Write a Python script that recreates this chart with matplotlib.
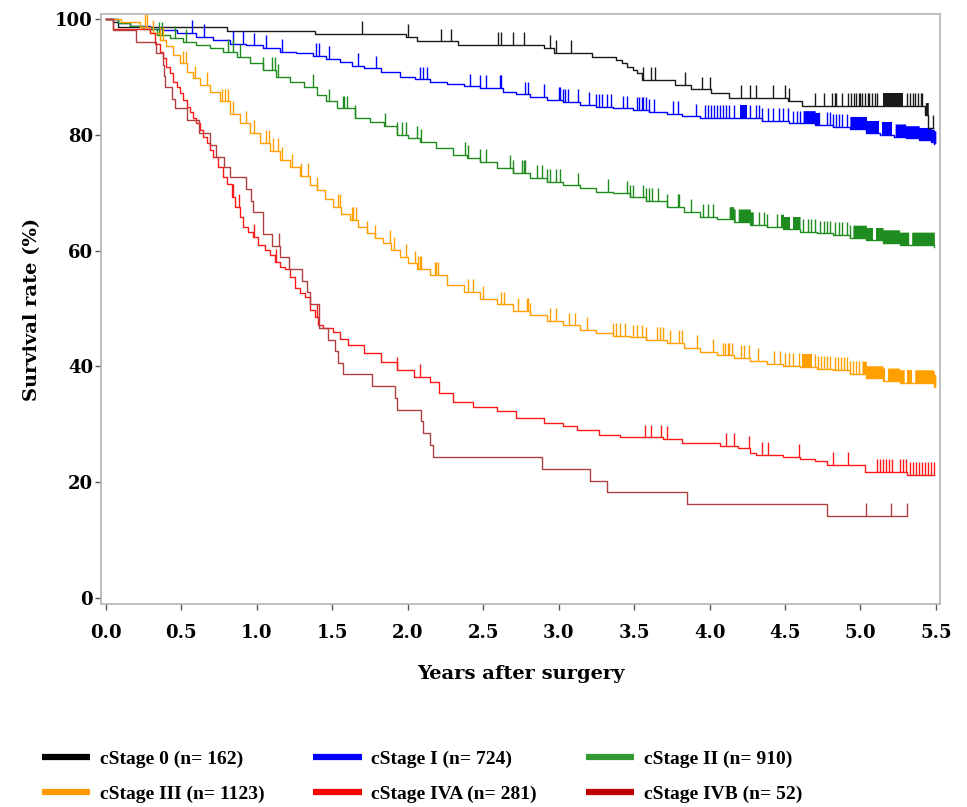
import numpy as np
import matplotlib
matplotlib.use("Agg")
import matplotlib.pyplot as plt
from matplotlib.lines import Line2D

plt.rcParams['font.family'] = 'DejaVu Serif'
plt.rcParams['font.weight'] = 'bold'

# ---- data (years, survival %) ----
labels = ["cStage 0 (n= 162)", "cStage I (n= 724)", "cStage II (n= 910)",
          "cStage III (n= 1123)", "cStage IVA (n= 281)", "cStage IVB (n= 52)"]
legend_colors = ["#000000", "#0000ff", "#339933", "#ff9900", "#ff0000", "#c00000"]
line_colors = ["#1a1a1a", "#0000ff", "#1e8c1e", "#ffa000", "#ff1a1a", "#b04040"]

t0 = [0, 0.05, 0.08, 0.80, 1.385, 1.99, 2.06, 2.33, 2.90, 2.97, 3.22, 3.38, 3.42, 3.45,
      3.49, 3.52, 3.55, 3.77, 3.88, 4.01, 4.13, 4.52, 4.61, 5.43, 5.45, 5.48]
s0 = [100, 99.5, 98.7, 98.0, 97.5, 97.0, 96.2, 95.6, 95.0, 94.2, 93.5, 93.0, 92.4, 91.8,
      91.2, 90.7, 89.5, 88.6, 87.9, 87.3, 86.4, 85.9, 85.0, 83.4, 81.2, 81.2]
c0 = [1.70, 2.00, 2.22, 2.29, 2.60, 2.62, 2.70, 2.77, 2.94, 2.98, 3.08, 3.56, 3.61, 3.64,
      3.84, 3.95, 4.00, 4.21, 4.27, 4.31, 4.42, 4.50, 4.53, 4.70, 4.76, 4.81, 4.83, 4.84,
      4.88, 4.92, 4.94, 4.96, 4.97, 4.99, 5.00, 5.01, 5.03, 5.05, 5.06, 5.08, 5.10, 5.11,
      5.31, 5.33, 5.35, 5.36, 5.38, 5.40, 5.41, 5.48]
d0 = [(5.15, 5.28), (5.43, 5.45)]

t1 = [0, 0.08, 0.16, 0.29, 0.38, 0.468, 0.60, 0.71, 0.82, 0.93, 1.04, 1.153, 1.26, 1.37,
      1.46, 1.55, 1.63, 1.71, 1.82, 1.95, 2.05, 2.15, 2.26, 2.37, 2.48, 2.63, 2.72, 2.81,
      2.92, 3.03, 3.14, 3.25, 3.36, 3.49, 3.60, 3.72, 3.82, 3.94, 4.16, 4.35, 4.53, 4.70,
      4.82, 4.93, 5.04, 5.13, 5.22, 5.30, 5.39, 5.47, 5.49]
s1 = [100, 99.4, 98.9, 98.4, 98.1, 97.6, 97.0, 96.4, 95.8, 95.5, 95.0, 94.4, 94.1, 93.7,
      93.2, 92.6, 91.9, 91.5, 90.8, 90.1, 89.6, 89.2, 88.8, 88.4, 88.1, 87.5, 87.0, 86.6,
      86.1, 85.7, 85.2, 84.9, 84.6, 84.3, 84.0, 83.6, 83.2, 83.0, 82.9, 82.4, 82.0, 81.7,
      81.4, 81.0, 80.3, 80.0, 79.7, 79.4, 79.1, 78.8, 78.5]
c1 = [0.57, 0.65, 0.84, 0.91, 0.98, 1.06, 1.17, 1.39, 1.41, 1.48, 1.67, 1.79, 2.08, 2.10,
      2.13, 2.41, 2.48, 2.52, 2.61, 2.62, 2.78, 2.80, 2.90, 3.00, 3.01, 3.03, 3.04, 3.06,
      3.13, 3.20, 3.25, 3.27, 3.29, 3.32, 3.35, 3.43, 3.45, 3.52, 3.53, 3.55, 3.56, 3.58,
      3.60, 3.63, 3.76, 3.79, 3.91, 3.97, 3.99, 4.01, 4.03, 4.05, 4.07, 4.09, 4.11, 4.13,
      4.16, 4.27, 4.31, 4.33, 4.35, 4.39, 4.42, 4.46, 4.49, 4.52, 4.55, 4.58, 4.60, 4.78,
      4.80, 4.82, 4.84, 4.86, 4.88, 4.91]
d1 = [(4.20, 4.25), (4.62, 4.73), (4.93, 5.12), (5.14, 5.21), (5.23, 5.50)]

t2 = [0, 0.08, 0.16, 0.247, 0.336, 0.424, 0.512, 0.60, 0.69, 0.777, 0.866, 0.954, 1.04,
      1.13, 1.22, 1.31, 1.396, 1.46, 1.53, 1.65, 1.75, 1.84, 1.93, 2.00, 2.08, 2.19, 2.30,
      2.39, 2.48, 2.59, 2.70, 2.81, 2.92, 3.03, 3.14, 3.25, 3.36, 3.47, 3.58, 3.72, 3.83,
      3.94, 4.05, 4.16, 4.27, 4.38, 4.49, 4.60, 4.71, 4.82, 4.93, 5.04, 5.15, 5.26, 5.49]
s2 = [100, 99.4, 98.9, 98.4, 97.3, 96.7, 96.1, 95.6, 95.0, 94.4, 93.5, 92.4, 91.2, 90.1,
      89.2, 88.3, 86.9, 85.8, 84.6, 83.0, 82.2, 81.6, 80.0, 79.4, 78.8, 77.7, 76.6, 76.0,
      75.4, 74.3, 73.4, 72.6, 71.9, 71.3, 70.8, 70.2, 69.9, 69.2, 68.6, 67.6, 66.7, 65.9,
      65.4, 65.0, 64.5, 64.1, 63.7, 63.3, 63.0, 62.7, 62.2, 61.8, 61.4, 61.0, 60.7]
c2 = [0.35, 0.37, 0.46, 0.53, 0.81, 0.84, 0.89, 1.04, 1.10, 1.12, 1.14, 1.37, 1.48, 1.57,
      1.58, 1.60, 1.65, 1.85, 1.93, 1.96, 1.99, 2.06, 2.09, 2.38, 2.40, 2.48, 2.52, 2.68,
      2.70, 2.76, 2.77, 2.78, 2.86, 2.89, 2.92, 2.94, 2.98, 3.01, 3.13, 3.33, 3.45, 3.47,
      3.49, 3.56, 3.58, 3.60, 3.62, 3.66, 3.72, 3.79, 3.80, 3.88, 3.96, 3.99, 4.02, 4.33,
      4.36, 4.38, 4.45, 4.62, 4.65, 4.67, 4.70, 4.73, 4.76, 4.78, 4.80, 4.83, 4.86, 4.88,
      4.91, 4.93]
d2 = [(4.13, 4.17), (4.19, 4.29), (4.47, 4.53), (4.55, 4.60), (4.95, 5.08), (5.10, 5.32),
      (5.34, 5.49)]

t3 = [0, 0.10, 0.225, 0.29, 0.358, 0.40, 0.446, 0.49, 0.535, 0.58, 0.623, 0.69, 0.755,
      0.82, 0.888, 0.954, 1.02, 1.087, 1.153, 1.22, 1.286, 1.35, 1.40, 1.45, 1.506, 1.56,
      1.617, 1.67, 1.728, 1.78, 1.838, 1.89, 1.948, 2.00, 2.06, 2.15, 2.26, 2.37, 2.48,
      2.59, 2.70, 2.81, 2.92, 3.03, 3.14, 3.25, 3.36, 3.47, 3.58, 3.72, 3.83, 3.94, 4.05,
      4.16, 4.27, 4.38, 4.49, 4.60, 4.71, 4.82, 4.93, 5.04, 5.15, 5.26, 5.48, 5.49]
s3 = [100, 99.5, 98.7, 97.6, 96.4, 95.3, 93.8, 92.4, 90.9, 89.8, 88.6, 87.5, 85.8, 83.7,
      82.0, 80.3, 78.6, 77.2, 75.7, 74.5, 72.9, 71.4, 70.5, 69.0, 67.6, 66.4, 65.3, 64.1,
      63.0, 62.2, 61.3, 60.1, 58.9, 57.8, 56.9, 55.8, 54.1, 52.9, 51.7, 50.7, 49.6, 48.8,
      47.9, 47.1, 46.3, 45.7, 45.3, 45.0, 44.6, 44.0, 43.2, 42.5, 41.9, 41.4, 40.9, 40.4,
      40.1, 39.9, 39.6, 39.4, 38.7, 37.9, 37.5, 37.2, 37.1, 36.4]
c3 = [0.26, 0.27, 0.31, 0.36, 0.38, 0.51, 0.53, 0.59, 0.67, 0.77, 0.79, 0.81, 0.84, 0.93,
      0.98, 1.06, 1.08, 1.11, 1.14, 1.17, 1.23, 1.29, 1.34, 1.40, 1.54, 1.55, 1.63, 1.64,
      1.66, 1.73, 1.78, 1.88, 1.91, 1.99, 2.05, 2.07, 2.08, 2.09, 2.18, 2.19, 2.20, 2.40,
      2.43, 2.50, 2.62, 2.64, 2.73, 2.79, 2.80, 2.81, 2.94, 2.98, 3.07, 3.11, 3.19, 3.36,
      3.38, 3.41, 3.44, 3.49, 3.52, 3.55, 3.58, 3.65, 3.67, 3.69, 3.74, 3.80, 3.82, 3.92,
      4.02, 4.09, 4.10, 4.12, 4.13, 4.15, 4.21, 4.23, 4.26, 4.32, 4.43, 4.47, 4.50, 4.53,
      4.55, 4.59, 4.70, 4.72, 4.74, 4.76, 4.78, 4.80, 4.83, 4.85, 4.87, 4.89, 4.91, 4.93,
      4.95, 4.97, 4.99]
d3 = [(4.61, 4.68), (5.01, 5.16), (5.18, 5.29), (5.31, 5.34), (5.36, 5.50)]

t4 = [0, 0.05, 0.29, 0.325, 0.358, 0.38, 0.40, 0.424, 0.446, 0.468, 0.49, 0.512, 0.535,
      0.557, 0.58, 0.60, 0.623, 0.645, 0.667, 0.69, 0.711, 0.744, 0.777, 0.80, 0.833,
      0.855, 0.888, 0.91, 0.943, 0.976, 1.01, 1.054, 1.087, 1.12, 1.153, 1.186, 1.22,
      1.252, 1.286, 1.32, 1.35, 1.385, 1.407, 1.44, 1.506, 1.55, 1.606, 1.71, 1.82, 1.93,
      2.04, 2.15, 2.21, 2.30, 2.43, 2.59, 2.72, 2.90, 3.03, 3.12, 3.27, 3.41, 3.69, 3.82,
      4.07, 4.19, 4.27, 4.31, 4.49, 4.60, 4.70, 4.78, 5.03, 5.31, 5.49]
s4 = [100, 98.3, 97.6, 95.8, 94.4, 93.3, 91.8, 90.7, 89.2, 88.3, 87.2, 86.0, 84.9, 84.0,
      82.9, 82.0, 80.9, 79.7, 78.6, 77.4, 76.2, 74.5, 72.8, 71.6, 69.3, 67.6, 65.9, 64.1,
      63.3, 62.4, 61.0, 60.1, 59.2, 58.1, 57.2, 56.9, 55.5, 53.5, 52.6, 52.0, 49.7, 48.6,
      47.1, 46.6, 46.0, 44.8, 43.7, 42.3, 40.8, 39.4, 38.2, 37.3, 35.3, 33.9, 33.0, 32.2,
      31.0, 30.2, 29.6, 29.0, 28.1, 27.7, 27.4, 26.8, 26.3, 25.8, 25.0, 24.7, 24.4, 24.0,
      23.6, 22.9, 21.8, 21.2, 21.2]
c4 = [0.84, 0.88, 0.98, 1.13, 1.40, 1.93, 2.08, 3.57, 3.61, 3.68, 3.72, 4.11, 4.16, 4.26,
      4.35, 4.39, 4.59, 4.82, 4.92, 5.11, 5.13, 5.15, 5.17, 5.19, 5.21, 5.26, 5.28, 5.30,
      5.33, 5.35, 5.37, 5.39, 5.41, 5.43, 5.45, 5.47, 5.49]
d4 = []

t5 = [0, 0.05, 0.20, 0.33, 0.38, 0.385, 0.39, 0.435, 0.457, 0.535, 0.62, 0.69, 0.73,
      0.78, 0.82, 0.93, 0.96, 0.976, 1.04, 1.10, 1.155, 1.21, 1.30, 1.33, 1.35, 1.41,
      1.47, 1.52, 1.54, 1.57, 1.76, 1.915, 1.93, 2.09, 2.10, 2.15, 2.17, 2.89, 3.21, 3.32,
      3.85, 4.78, 5.31]
s5 = [100, 98.1, 96.1, 94.1, 92.1, 90.2, 88.3, 86.3, 84.6, 82.6, 80.3, 78.3, 76.2, 74.5,
      72.8, 70.6, 68.6, 66.7, 62.9, 60.8, 58.9, 56.8, 54.8, 52.8, 50.7, 46.7, 44.6, 42.6,
      40.6, 38.7, 36.6, 34.6, 32.5, 30.5, 28.4, 26.4, 24.3, 22.3, 20.2, 18.2, 16.2, 14.1,
      14.1]
c5 = [1.15, 5.04, 5.20, 5.31]
d5 = []

times = [t0, t1, t2, t3, t4, t5]
survs = [s0, s1, s2, s3, s4, s5]
censors = [c0, c1, c2, c3, c4, c5]
dense = [d0, d1, d2, d3, d4, d5]

tick_h = 2.2


def surv_at(t, s, x):
    t = np.asarray(t)
    s = np.asarray(s)
    i = np.searchsorted(t, x, side='right') - 1
    return s[np.clip(i, 0, len(s) - 1)]


fig = plt.figure(figsize=(9.67, 8.07), dpi=100)
ax = fig.add_axes([0.1044, 0.2516, 0.8676, 0.7311])

for t, s, c, d, col in zip(times, survs, censors, dense, line_colors):
    ax.plot(t, s, drawstyle='steps-post', color=col, lw=1.0)
    y = surv_at(t, s, np.array(c))
    ax.vlines(c, y, y + tick_h, color=col, lw=1.0)
    for a, b in d:
        xs = np.linspace(a, b, 200)
        ys = surv_at(t, s, xs)
        ax.fill_between(xs, ys, ys + tick_h, color=col, lw=0)

ax.set_xlim(-0.033, 5.527)
ax.set_ylim(-1.09, 100.92)
ax.set_xticks(np.arange(0, 5.51, 0.5))
ax.set_xticklabels([f"{v:.1f}" for v in np.arange(0, 5.51, 0.5)])
ax.set_yticks([0, 20, 40, 60, 80, 100])
for sp in ax.spines.values():
    sp.set_color('#b4b4b4')
    sp.set_linewidth(1.2)
ax.tick_params(axis='both', length=4.3, width=1, color='#555555', labelsize=13)
ax.tick_params(axis='x', pad=10)
ax.tick_params(axis='y', pad=1.5)
ax.set_xlabel("Years after surgery", fontsize=14, fontweight='bold', labelpad=17)
ax.set_ylabel("Survival rate (%)", fontsize=14, fontweight='bold', labelpad=10)

# legend is filled column by column, so order entries to read row by row
order = [0, 3, 1, 4, 2, 5]
handles = [Line2D([], [], color=legend_colors[i], lw=4.5, solid_capstyle='butt') for i in order]
fig.legend(handles, [labels[i] for i in order], ncol=3, loc='upper left',
           bbox_to_anchor=(0.043, 0.0706),
           frameon=False, borderpad=0, borderaxespad=0, handlelength=2.5,
           handletextpad=0.5, columnspacing=2.5, labelspacing=0.91,
           prop={'family': 'Liberation Serif', 'weight': 'bold', 'size': 14})

fig.savefig("out.png", dpi=100)
